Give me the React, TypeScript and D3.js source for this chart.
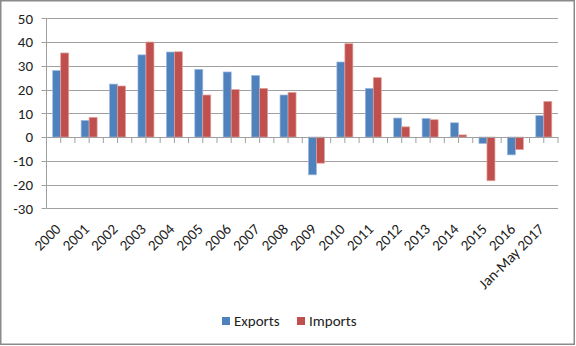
import React from "react";
import * as d3 from "d3";

const categories = ["2000","2001","2002","2003","2004","2005","2006","2007","2008","2009","2010","2011","2012","2013","2014","2015","2016","Jan-May 2017"];
const exportsVals = [28, 7, 22.3, 34.6, 35.8, 28.5, 27.4, 25.9, 17.7, -15.9, 31.6, 20.5, 8, 7.8, 6, -2.7, -7.5, 9];
const importsVals = [35.4, 8.3, 21.5, 40, 35.9, 17.7, 20, 20.5, 18.8, -11, 39.3, 25, 4.3, 7.3, 0.9, -18.4, -5.3, 15];
const yTicks = [50, 40, 30, 20, 10, 0, -10, -20, -30];
const seriesNames = ["Exports", "Imports"];
const colors = ["#4F81BD", "#C0504D"];
const strokes = ["#9DB9DE", "#E0A3A1"];

const FONT = "Carlito, Calibri, Lato, 'Liberation Sans', sans-serif";

export default function App() {
  const W = 576, H = 346;
  const left = 46.5, right = 558, top = 18.3, bottom = 208.3;
  const x = d3.scaleBand<string>().domain(categories).range([left, right]).paddingInner(0).paddingOuter(0);
  const y = d3.scaleLinear().domain([-30, 50]).range([bottom, top]);
  const bw = x.bandwidth();
  const barW = 8;
  const halfTicks: number[] = [];
  for (let i = 0; i <= categories.length * 2; i++) halfTicks.push(left + (i * bw) / 2);
  const series = [exportsVals, importsVals];

  return (
    <svg width={W} height={H} style={{ position: "absolute", left: 0, top: 0, fontFamily: FONT }}>
      <rect x={0} y={0} width={W} height={H} fill="#fff" />
      <rect x={0.75} y={0.75} width={573.5} height={343.5} fill="none" stroke="#8a8a8a" strokeWidth={1.5} />
      {yTicks.filter(t => t !== 0).map(t => (
        <line key={t} x1={left} x2={right} y1={Math.round(y(t)) + 0.5} y2={Math.round(y(t)) + 0.5} stroke="#a0a0a0" strokeWidth={1} />
      ))}
      {yTicks.map(t => (
        <g key={"yt" + t}>
          <line x1={left - 5} x2={left} y1={Math.round(y(t)) + 0.5} y2={Math.round(y(t)) + 0.5} stroke="#a0a0a0" />
          <text x={33} y={y(t)} dy="0.35em" textAnchor="end" fontSize={15} fill="#222">{t}</text>
        </g>
      ))}
      {categories.map((c, i) => (
        <g key={c}>
          {series.map((s, k) => {
            const v = s[i];
            const cx = (x(c) as number) + bw / 2;
            const bx = cx - barW + k * barW;
            const y0 = y(Math.max(0, v));
            const h = Math.abs(y(v) - y(0));
            return <rect key={k} x={bx} y={y0} width={barW} height={h} fill={colors[k]} stroke={strokes[k]} strokeWidth={0.7} />;
          })}
        </g>
      ))}
      <line x1={left} x2={left} y1={top} y2={bottom} stroke="#a0a0a0" />
      <line x1={left} x2={right} y1={Math.round(y(0)) + 0.5} y2={Math.round(y(0)) + 0.5} stroke="#a0a0a0" />
      {halfTicks.map((tx, i) => (
        <line key={"ht" + i} x1={tx} x2={tx} y1={y(0)} y2={y(0) + 6} stroke="#a0a0a0" />
      ))}
      {categories.map(c => {
        const cx = (x(c) as number) + bw / 2;
        return (
          <text key={"xl" + c} x={0} y={0} textAnchor="end" fontSize={15} fill="#222"
            transform={`translate(${cx + 1},${230}) rotate(-45)`}>{c}</text>
        );
      })}
      {seriesNames.map((n, k) => {
        const lx = k === 0 ? 222 : 297;
        return (
          <g key={n}>
            <rect x={lx} y={317} width={8} height={8} fill={colors[k]} />
            <text x={lx + 12} y={326} fontSize={15} fill="#222">{n}</text>
          </g>
        );
      })}
    </svg>
  );
}
